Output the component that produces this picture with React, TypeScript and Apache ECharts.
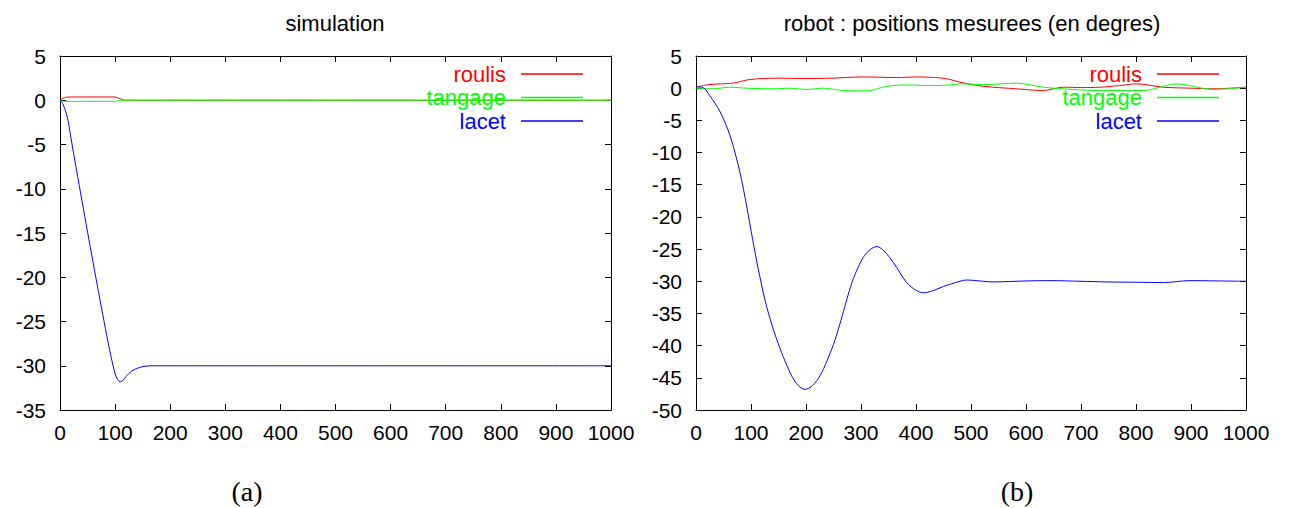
import { useEffect, useRef } from "react";
import * as echarts from "echarts";

// Panel (a): simulated attitude angles
const simRoulisX = [0, 5, 12, 20, 60, 99, 104, 110, 115, 118, 1000];
const simRoulisY = [0, 0.2, 0.35, 0.37, 0.37, 0.37, 0.3, 0.15, 0.05, 0, 0];
const simTangageX = [0, 6, 60, 100, 105, 111, 1000];
const simTangageY = [0, -0.13, -0.13, -0.13, -0.08, 0, 0];
const simLacetX = [0, 5, 10, 15, 20, 30, 40, 50, 60, 70, 80, 90, 100, 105, 110, 115, 120, 130, 140, 150, 165, 180, 1000];
const simLacetY = [0, -0.4, -1.2, -2.4, -4.3, -7.9, -11.4, -14.9, -18.3, -21.7, -25.0, -28.2, -30.9, -31.6, -31.8, -31.6, -31.2, -30.6, -30.3, -30.1, -30.0, -30, -30];

// Panel (b): measured robot positions (degrees)
const robRoulisX = [0, 19, 40, 68, 98, 147, 200, 244, 304, 365, 401, 444, 462, 480, 522, 583, 631, 668, 700, 735, 770, 801, 850, 900, 940, 1000];
const robRoulisY = [0.15, 0.5, 0.65, 0.8, 1.35, 1.55, 1.5, 1.55, 1.75, 1.65, 1.75, 1.6, 1.35, 0.93, 0.3, -0.1, -0.37, 0.15, 0.1, 0.15, 0.4, 0.67, 0.15, 0.0, -0.1, 0.15];
const robTangageX = [0, 31, 62, 92, 141, 171, 201, 232, 268, 310, 347, 383, 425, 462, 480, 522, 583, 631, 668, 734, 813, 874, 940, 1000];
const robTangageY = [0, -0.1, 0.15, 0, -0.1, 0, -0.2, 0, -0.37, -0.42, 0.3, 0.5, 0.4, 0.5, 0.67, 0.55, 0.78, 0.15, -0.1, -0.37, -0.37, 0.67, -0.2, 0.15];
const robLacetX = [0, 13, 25, 44, 62, 80, 92, 103, 113, 128, 147, 171, 185, 198, 212, 226, 238, 250, 259, 268, 277, 286, 295, 304, 316, 329, 342, 359, 383, 400, 413, 430, 450, 480, 492, 540, 600, 644, 700, 747, 800, 850, 898, 950, 1000];
const robLacetY = [0.2, 0.1, -1.15, -3.7, -7.4, -13.1, -18.3, -23.5, -28.0, -33.8, -39.1, -44.2, -46.1, -46.8, -46.2, -44.6, -42.4, -39.8, -37.4, -34.7, -32.0, -29.6, -27.8, -26.3, -25.1, -24.6, -25.3, -27.1, -30.2, -31.4, -31.8, -31.5, -30.8, -30.0, -29.8, -30.1, -29.95, -29.9, -30.0, -30.1, -30.15, -30.2, -29.9, -29.95, -30.0];

const seriesNames = ["roulis", "tangage", "lacet"];
const seriesColors = ["#ff0000", "#00ff00", "#0000ff"];
const panelTitles = ["simulation", "robot : positions mesurees (en degres)"];
const panelCaptions = ["(a)", "(b)"];
const xRange = [0, 1000, 100];
const simYRange = [-35, 5, 5];
const robYRange = [-50, 5, 5];

const SANS = "'Liberation Sans', Arial, sans-serif";
const SERIF = "'Liberation Serif', 'Times New Roman', serif";

const zip = (xs: number[], ys: number[]) => xs.map((x, i) => [x, ys[i]]);

function axis(kind: "x" | "y", range: number[], gridIndex: number, mirror: boolean) {
  const position = kind === "x" ? (mirror ? "top" : "bottom") : mirror ? "right" : "left";
  return {
    type: "value",
    gridIndex,
    position,
    min: range[0],
    max: range[1],
    interval: range[2],
    axisLine: { show: true, onZero: false, lineStyle: { color: "#000", width: 1 } },
    axisTick: { show: true, inside: true, length: 6, lineStyle: { color: "#000", width: 1 } },
    splitLine: { show: false },
    axisLabel: {
      show: !mirror,
      color: "#000",
      fontSize: 21,
      fontFamily: SANS,
      margin: kind === "x" ? 12 : 14,
      formatter: (v: number) => String(v),
    },
  };
}

export default function App() {
  const ref = useRef<HTMLDivElement>(null);

  useEffect(() => {
    if (!ref.current) return;
    const chart = echarts.init(ref.current, null, { renderer: "svg" });

    const simData = [zip(simRoulisX, simRoulisY), zip(simTangageX, simTangageY), zip(simLacetX, simLacetY)];
    const robData = [zip(robRoulisX, robRoulisY), zip(robTangageX, robTangageY), zip(robLacetX, robLacetY)];

    const makeSeries = (data: number[][][], axisBase: number) =>
      data.map((d, i) => ({
        type: "line",
        name: seriesNames[i],
        xAxisIndex: axisBase,
        yAxisIndex: axisBase,
        data: d,
        showSymbol: false,
        smooth: 0.3,
        lineStyle: { color: seriesColors[i], width: 1 },
        itemStyle: { color: seriesColors[i] },
        silent: true,
      }));

    const legendFor = (right: number) => ({
      right,
      top: 58,
      orient: "vertical",
      align: "right",
      icon: "rect",
      itemWidth: 62,
      itemHeight: 1.5,
      itemGap: 1.5,
      selectedMode: false,
      textStyle: { fontSize: 22, fontFamily: SANS, padding: [0, 10, 0, 0] },
      data: seriesNames.map((n, i) => ({ name: n, textStyle: { color: seriesColors[i] } })),
    });

    const label = (text: string, x: number, y: number, font: string) => ({
      type: "text",
      x,
      y,
      style: { text, font, fill: "#000", align: "center", verticalAlign: "middle" },
    });

    chart.setOption({
      animation: false,
      backgroundColor: "#fff",
      grid: [
        { left: 60, top: 56, width: 551, height: 354 },
        { left: 696, top: 56, width: 550, height: 354 },
      ],
      xAxis: [axis("x", xRange, 0, false), axis("x", xRange, 0, true), axis("x", xRange, 1, false), axis("x", xRange, 1, true)],
      yAxis: [axis("y", simYRange, 0, false), axis("y", simYRange, 0, true), axis("y", robYRange, 1, false), axis("y", robYRange, 1, true)],
      legend: [legendFor(705), legendFor(69)],
      series: [...makeSeries(simData, 0), ...makeSeries(robData, 2)],
      graphic: [
        label(panelTitles[0], 335, 23, `22px ${SANS}`),
        label(panelTitles[1], 972, 23, `22px ${SANS}`),
        label(panelCaptions[0], 247, 491, `28px ${SERIF}`),
        label(panelCaptions[1], 1017, 491, `28px ${SERIF}`),
      ],
    });

    return () => chart.dispose();
  }, []);

  return <div ref={ref} style={{ position: "absolute", left: 0, top: 0, width: 1293, height: 508 }} />;
}
